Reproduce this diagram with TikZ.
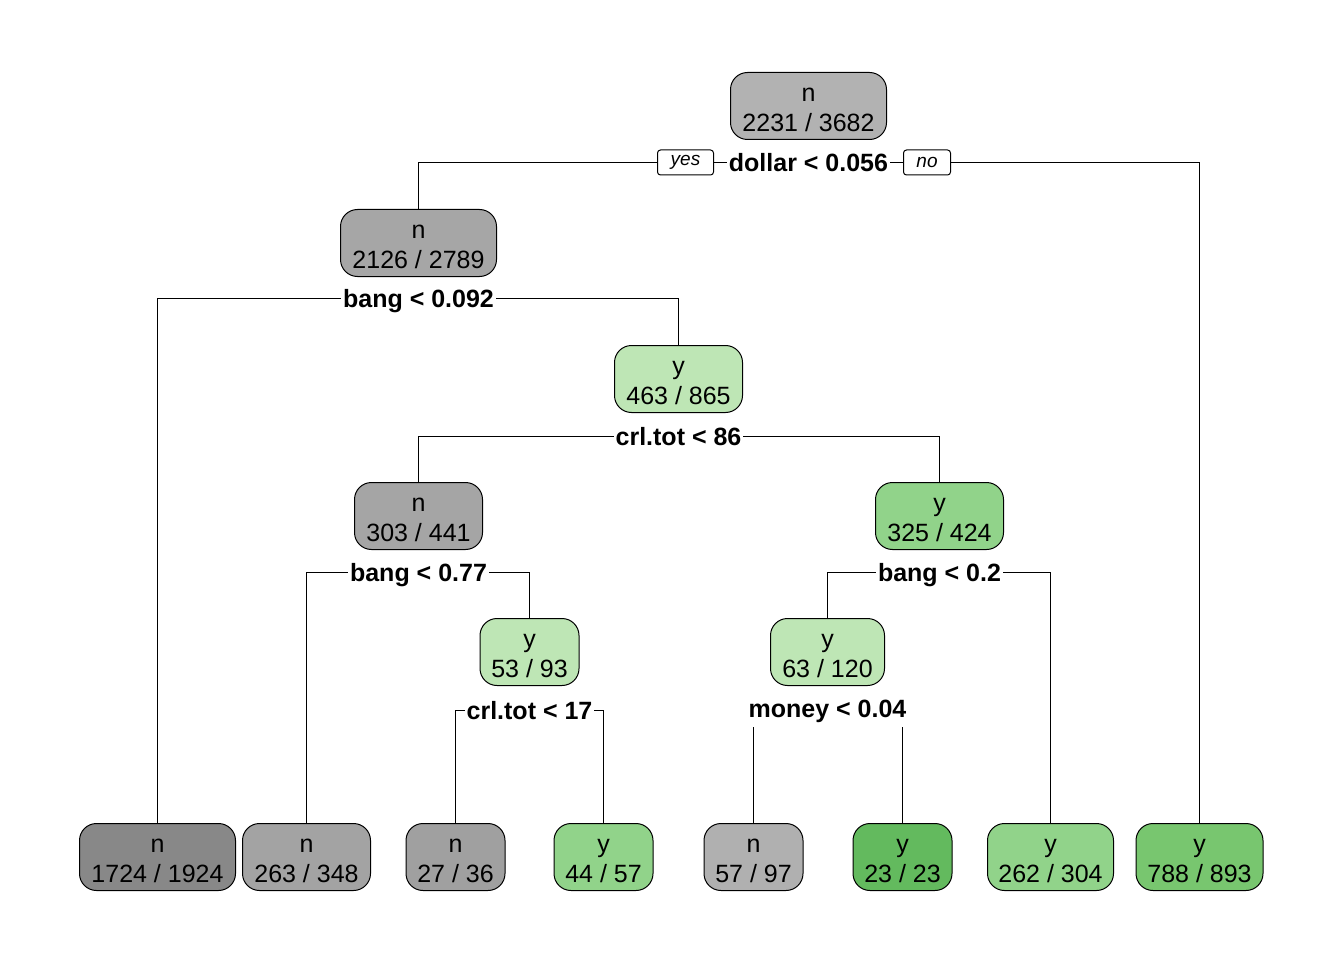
\documentclass[tikz,border=0pt]{standalone}
\usepackage{fontspec}
\setmainfont{Liberation Sans}
\usetikzlibrary{backgrounds}
\definecolor{gRoot}{RGB}{178,178,178}
\definecolor{gA}{RGB}{166,166,166}
\definecolor{gL1}{RGB}{136,136,136}
\definecolor{gL2}{RGB}{163,163,163}
\definecolor{gC}{RGB}{165,165,165}
\definecolor{gL3}{RGB}{160,160,160}
\definecolor{gL5}{RGB}{176,176,176}
\definecolor{gnLight}{RGB}{190,230,181}
\definecolor{gnMid}{RGB}{145,211,138}
\definecolor{gnDark}{RGB}{99,186,94}
\definecolor{gnL8}{RGB}{120,198,111}
\newcommand\tn[7]{%
  \node[box, minimum width=#4pt, fill=#5] (#1) at (#2,#3+33.5) {};
  \node[txt] (#1a) at (#2,#3+29) {#6};
  \node[txt] (#1b) at (#2,#3+59) {#7};}
\begin{document}
\begin{tikzpicture}[x=1pt,y=-1pt,
  box/.style={draw=black, line width=1pt, rounded corners=17pt, minimum height=67pt, inner sep=0pt},
  txt/.style={anchor=base, font=\fontsize{25}{30}\selectfont, inner sep=0pt},
  split/.style={anchor=base, yshift=-9pt, font=\bfseries\fontsize{25}{30}\selectfont, fill=white, inner xsep=2pt, inner ysep=4pt},
  yn/.style={draw=black, line width=1pt, fill=white, rounded corners=3pt, font=\itshape\fontsize{19}{22}\selectfont, minimum height=25pt, inner sep=0pt},
  edge/.style={line width=1pt}]
\useasboundingbox (0,0) rectangle (1344,960);
\begin{scope}[shift={(0.5,0.5)}]
% tree nodes
\tn{r}{808}{72}{156}{gRoot}{n}{2231 / 3682}
\tn{a}{418}{209}{156}{gA}{n}{2126 / 2789}
\tn{b}{678}{345}{128}{gnLight}{y}{463 / 865}
\tn{c}{418}{482}{128}{gC}{n}{303 / 441}
\tn{d}{939}{482}{128}{gnMid}{y}{325 / 424}
\tn{e}{529}{618}{99}{gnLight}{y}{53 / 93}
\tn{f}{827}{618}{114}{gnLight}{y}{63 / 120}
\tn{la}{157}{823}{156}{gL1}{n}{1724 / 1924}
\tn{lb}{306}{823}{128}{gL2}{n}{263 / 348}
\tn{lc}{455}{823}{99}{gL3}{n}{27 / 36}
\tn{ld}{603}{823}{99}{gnMid}{y}{44 / 57}
\tn{le}{753}{823}{99}{gL5}{n}{57 / 97}
\tn{lf}{902}{823}{99}{gnDark}{y}{23 / 23}
\tn{lg}{1050}{823}{126}{gnMid}{y}{262 / 304}
\tn{lh}{1199}{823}{127}{gnL8}{y}{788 / 893}
% split points
\coordinate (c1) at (808,162);
\coordinate (c2) at (418,298);
\coordinate (c3) at (678,436);
\coordinate (c4) at (418,572);
\coordinate (c5) at (939,572);
\coordinate (c6) at (529,710);
\coordinate (c7) at (827,708);
% split labels
\node[split] (s1) at (c1) {dollar < 0.056};
\node[split] (s2) at (c2) {bang < 0.092};
\node[split] (s3) at (c3) {crl.tot < 86};
\node[split] (s4) at (c4) {bang < 0.77};
\node[split] (s5) at (c5) {bang < 0.2};
\node[split] (s6) at (c6) {crl.tot < 17};
\node[split] (s7) at (c7) {money < 0.04};
\node[yn, minimum width=56pt] (yes) at (685,162) {yes};
\node[yn, minimum width=47pt] (no) at (926.5,162) {no};
% connectors
\begin{scope}[on background layer]
\draw[edge] (a.north) |- (c1) -| (lh.north);
\draw[edge] (la.north) |- (c2) -| (b.north);
\draw[edge] (c.north) |- (c3) -| (d.north);
\draw[edge] (lb.north) |- (c4) -| (e.north);
\draw[edge] (f.north) |- (c5) -| (lg.north);
\draw[edge] (lc.north) |- (c6) -| (ld.north);
\draw[edge] (le.north) |- (c7) -| (lf.north);
\end{scope}
\end{scope}
\end{tikzpicture}
\end{document}
